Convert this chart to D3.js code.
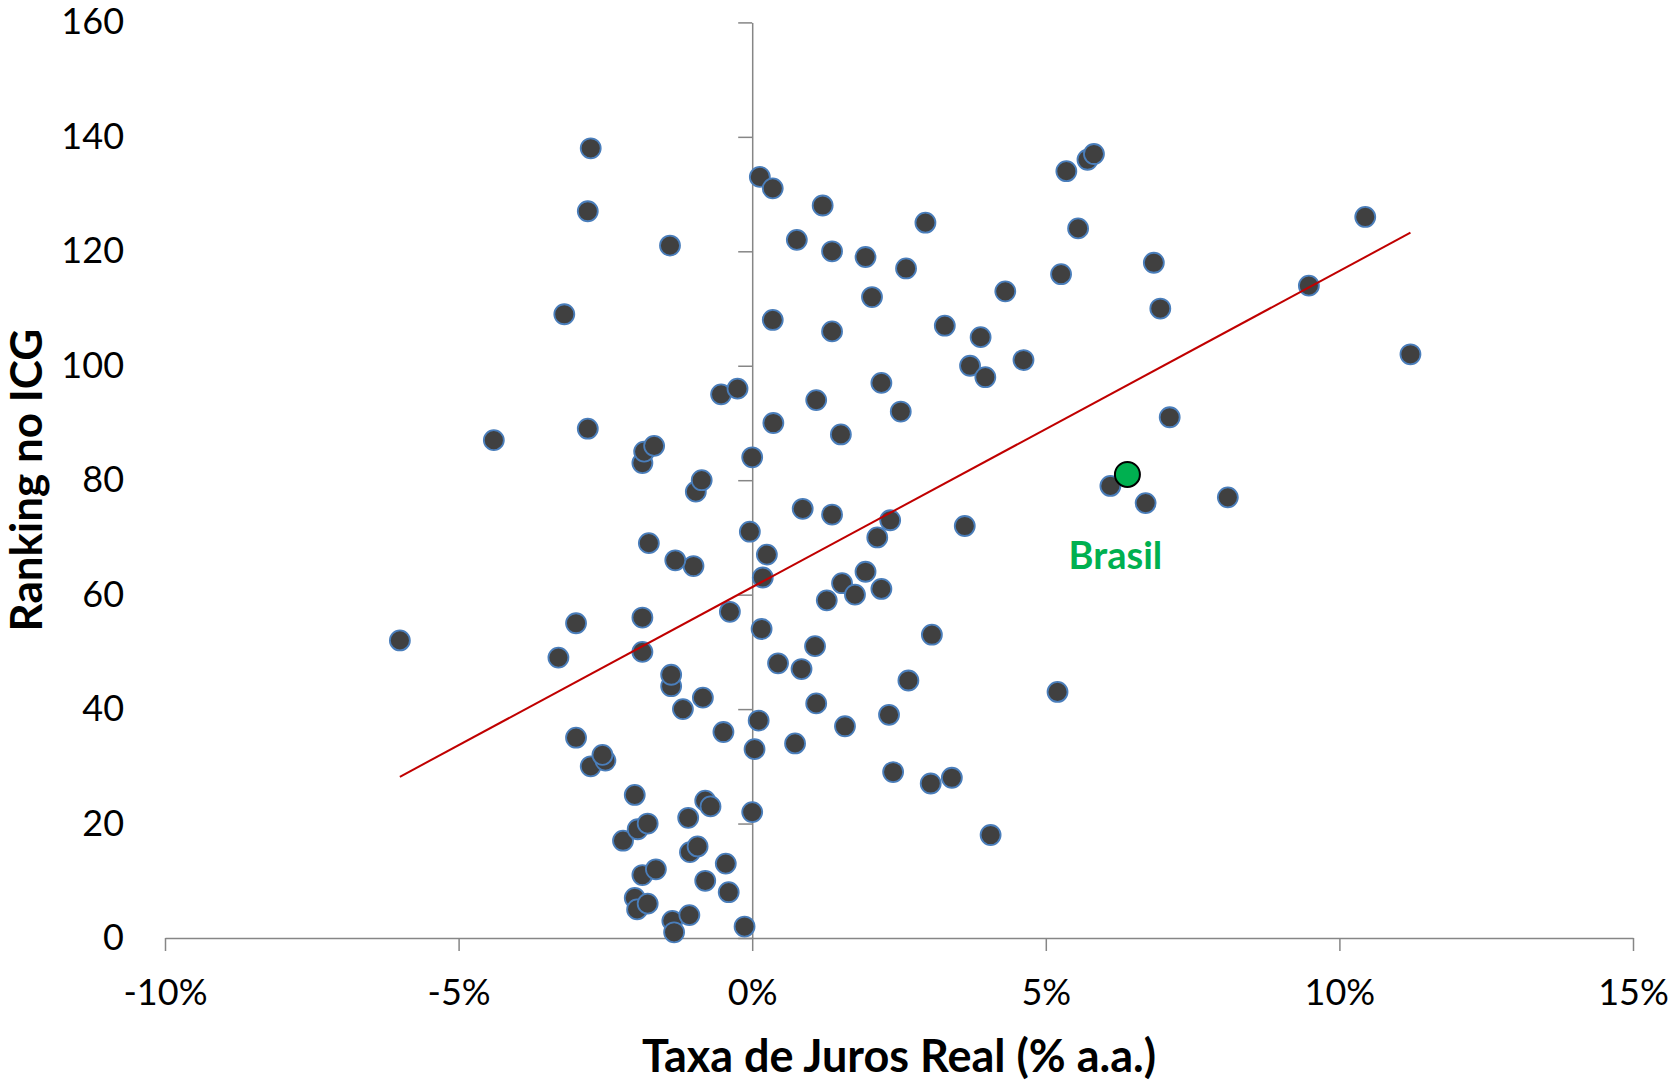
<!DOCTYPE html>
<html>
<head>
<meta charset="utf-8">
<script src="https://cdn.jsdelivr.net/npm/d3@7"></script>
<style>
    body { margin: 0; background: #fff; }
    svg text { font-family: Lato, "Open Sans", sans-serif; fill: #000; }
</style>
</head>
<body>
<div id="chart-area"></div>
<script>
// Taxa de juros real (% a.a.) x ranking no ICG, one entry per country
var taxaJuros = [
    -2.75, -2.8, -3.2, -1.4, -4.4, -2.8, -6.0, -3.3, -3.0, -3.0,
    -2.75, -2.5, -2.55, -2.2, -2.0, -1.95, -1.78, -1.87, -1.64, -2.0,
    -1.96, -1.78, -1.36, -1.33, -1.07, -1.09, -1.06, -0.93, -0.8, -0.8,
    -0.71, -0.45, -0.4, -0.13, 0.0, 0.04, 0.11, -0.49, -0.84, -1.18,
    -1.38, -1.38, -1.87, -1.87, -1.0, -1.31, -1.76, -0.38, -0.04, -0.96,
    -0.86, -1.87, -1.84, -1.67, -0.53, -0.25, 0.0, 0.25, 0.18, 0.16,
    0.44, 0.84, 1.07, 1.09, 0.73, 1.58, 2.33, 2.4, 2.66, 3.04,
    3.4, 3.06, 4.06, 5.2, 0.13, 0.35, 1.2, 0.76, 1.36, 1.93,
    2.95, 2.62, 2.04, 0.35, 1.36, 3.28, 3.89, 3.71, 3.97, 4.62,
    4.31, 5.26, 5.55, 5.35, 5.71, 5.82, 2.2, 2.53, 1.09, 0.36,
    1.51, 0.86, 1.36, 2.35, 2.13, 3.62, 1.93, 1.53, 1.75, 2.2,
    1.27, 6.1, 6.7, 8.1, 7.11, 6.84, 6.95, 9.48, 10.44, 11.21
];
var rankingICG = [
    138, 127, 109, 121, 87, 89, 52, 49, 55, 35,
    30, 31, 32, 17, 25, 19, 20, 11, 12, 7,
    5, 6, 3, 1, 4, 21, 15, 16, 10, 24,
    23, 13, 8, 2, 22, 33, 38, 36, 42, 40,
    44, 46, 50, 56, 65, 66, 69, 57, 71, 78,
    80, 83, 85, 86, 95, 96, 84, 67, 63, 54,
    48, 47, 51, 41, 34, 37, 39, 29, 45, 27,
    28, 53, 18, 43, 133, 131, 128, 122, 120, 119,
    125, 117, 112, 108, 106, 107, 105, 100, 98, 101,
    113, 116, 124, 134, 136, 137, 97, 92, 94, 90,
    88, 75, 74, 73, 70, 72, 64, 62, 60, 61,
    59, 79, 76, 77, 91, 118, 110, 114, 126, 102
];
var brasilJuros = [6.39];
var brasilRanking = [81];

var xTicks = [-10, -5, 0, 5, 10, 15];
var yTicks = [0, 20, 40, 60, 80, 100, 120, 140, 160];

var width = 1675, height = 1081;

var svg = d3.select("#chart-area")
    .append("svg")
    .attr("width", width)
    .attr("height", height);

var x = d3.scaleLinear().domain([-10, 15]).range([165, 1633]);
var y = d3.scaleLinear().domain([0, 160]).range([938, 22.4]);

// Axes cross at zero, labels sit at the low end like Excel
var xAxis = svg.append("g")
    .attr("transform", "translate(0," + y(0) + ")")
    .call(d3.axisBottom(x).tickValues(xTicks)
        .tickSizeInner(13).tickSizeOuter(0).tickPadding(28)
        .tickFormat(function(d){ return d + "%"; }));

var yAxis = svg.append("g")
    .attr("transform", "translate(" + x(0) + ",0)")
    .call(d3.axisLeft(y).tickValues(yTicks)
        .tickSizeInner(14).tickSizeOuter(0).tickPadding(x(0) - 14 - 124));

svg.selectAll(".domain, .tick line")
    .attr("stroke", "#868686")
    .attr("stroke-width", 1.5);
svg.selectAll(".tick text")
    .attr("font-size", "36px")
    .attr("fill", "#000");

// Axis titles
svg.append("text")
    .attr("x", (x(-10) + x(15)) / 2)
    .attr("y", 1072)
    .attr("font-size", "45px")
    .attr("font-weight", "bold")
    .attr("text-anchor", "middle")
    .text("Taxa de Juros Real (% a.a.)");

svg.append("text")
    .attr("transform", "rotate(-90)")
    .attr("x", -(y(0) + y(160)) / 2)
    .attr("y", 42)
    .attr("font-size", "44px")
    .attr("font-weight", "bold")
    .attr("text-anchor", "middle")
    .text("Ranking no ICG");

// Countries
svg.append("g").selectAll("circle")
    .data(taxaJuros)
    .enter().append("circle")
    .attr("cx", function(d){ return x(d); })
    .attr("cy", function(d, i){ return y(rankingICG[i]); })
    .attr("r", 10)
    .attr("fill", "#404040")
    .attr("stroke", "#4a7ebb")
    .attr("stroke-width", 1.8);

// Linear trend over all countries (least squares)
var allX = taxaJuros.concat(brasilJuros);
var allY = rankingICG.concat(brasilRanking);
var mx = d3.mean(allX), my = d3.mean(allY);
var sxy = d3.sum(allX, function(d, i){ return (d - mx) * (allY[i] - my); });
var sxx = d3.sum(allX, function(d){ return (d - mx) * (d - mx); });
var slope = sxy / sxx, intercept = my - slope * mx;
var xExtent = d3.extent(allX);

svg.append("line")
    .attr("x1", x(xExtent[0]))
    .attr("y1", y(intercept + slope * xExtent[0]))
    .attr("x2", x(xExtent[1]))
    .attr("y2", y(intercept + slope * xExtent[1]))
    .attr("stroke", "#c00000")
    .attr("stroke-width", 2);

// Brasil highlighted
svg.append("g").selectAll("circle")
    .data(brasilJuros)
    .enter().append("circle")
    .attr("cx", function(d){ return x(d); })
    .attr("cy", function(d, i){ return y(brasilRanking[i]); })
    .attr("r", 12.5)
    .attr("fill", "#00b050")
    .attr("stroke", "#000")
    .attr("stroke-width", 2);

svg.append("text")
    .attr("x", x(brasilJuros[0]) - 12)
    .attr("y", y(brasilRanking[0]) + 95)
    .attr("font-size", "38px")
    .attr("font-weight", "bold")
    .attr("text-anchor", "middle")
    .style("fill", "#00b050")
    .text("Brasil");
</script>
</body>
</html>
